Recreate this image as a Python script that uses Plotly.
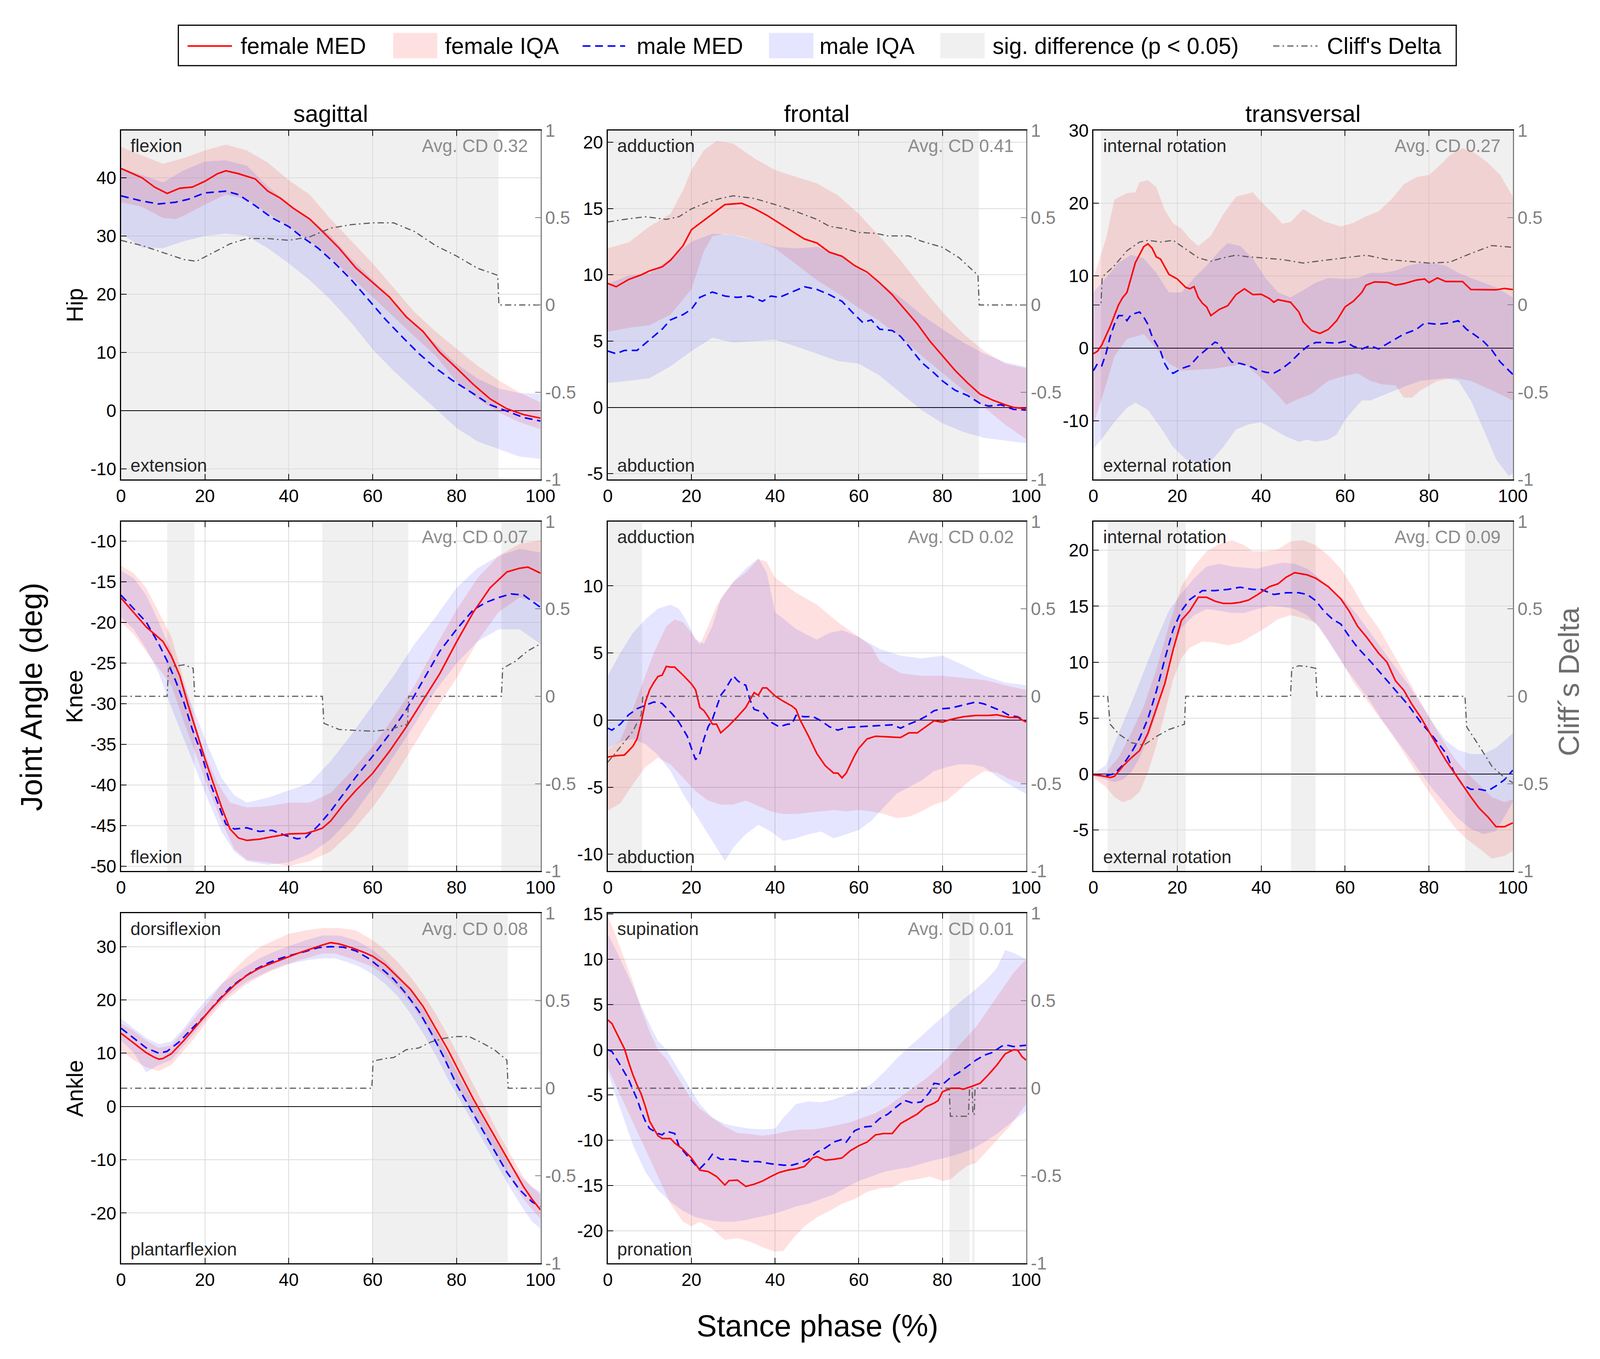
import plotly.graph_objects as go

# ---------------------------------------------------------------
# data: (stance %, value) pairs
# ---------------------------------------------------------------

# Hip - sagittal
hip_sag_f_med = [(0, 41.6), (5, 40.0), (8, 38.4), (11, 37.3), (14, 38.2), (17, 38.4), (20, 39.4), (23, 40.7),
                 (25, 41.2), (28, 40.7), (32, 39.8), (35, 37.7), (38, 36.5), (41, 34.8), (45, 32.9), (48, 30.8),
                 (52, 27.9), (56, 24.5), (60, 22.0), (64, 19.5), (68, 16.1), (72, 13.6), (76, 10.0), (80, 7.3),
                 (84, 4.5), (88, 2.0), (92, 0.3), (96, -0.7), (100, -1.3)]
hip_sag_m_med = [(0, 36.9), (5, 36.0), (9, 35.5), (13, 35.8), (16, 36.3), (20, 37.4), (25, 37.7), (28, 37.1),
                 (32, 35.2), (36, 33.1), (40, 31.6), (43, 29.9), (47, 27.9), (51, 25.3), (55, 22.4), (59, 19.0),
                 (63, 15.7), (67, 12.7), (71, 9.8), (75, 7.3), (79, 5.2), (84, 2.9), (88, 1.0), (92, -0.1),
                 (96, -1.2), (100, -1.8)]
hip_sag_f_up = [(0, 45.3), (10, 42.4), (15, 43.4), (20, 44.7), (25, 45.7), (30, 44.7), (35, 42.6), (40, 39.6),
                (45, 37.1), (50, 32.9), (55, 29.1), (60, 25.3), (65, 21.1), (70, 16.9), (75, 13.6), (80, 10.6),
                (85, 7.7), (90, 5.2), (95, 3.1), (100, 1.4)]
hip_sag_f_lo = [(0, 35.8), (5, 35.0), (10, 33.1), (13, 32.9), (15, 33.5), (20, 35.4), (25, 37.1), (30, 36.3),
                (35, 33.9), (40, 31.6), (45, 29.1), (50, 26.2), (55, 22.8), (60, 19.5), (65, 16.1), (70, 12.7),
                (75, 9.4), (80, 5.0), (85, 2.0), (90, -0.3), (95, -2.0), (100, -3.2)]
hip_sag_m_up = [(0, 41.7), (5, 40.5), (10, 39.2), (15, 41.3), (20, 42.8), (25, 43.0), (30, 42.1), (35, 38.5),
                (40, 35.5), (45, 33.0), (50, 30.0), (55, 26.0), (60, 22.5), (65, 18.5), (70, 15.0), (75, 11.5),
                (80, 8.0), (85, 5.5), (90, 3.8), (95, 3.0), (100, 2.9)]
hip_sag_m_lo = [(0, 30.4), (5, 28.0), (10, 27.9), (15, 29.1), (20, 30.0), (25, 30.4), (30, 30.0), (35, 27.9),
                (40, 25.3), (45, 22.4), (50, 19.0), (55, 15.0), (60, 10.5), (65, 6.8), (70, 3.5), (75, 0.3),
                (80, -3.0), (85, -5.3), (90, -6.6), (95, -7.9), (100, -8.3)]
hip_sag_cd = [(0, 0.37), (5, 0.34), (10, 0.30), (15, 0.26), (18, 0.25), (22, 0.30), (26, 0.35), (30, 0.38),
              (35, 0.38), (40, 0.37), (45, 0.39), (50, 0.44), (55, 0.46), (60, 0.47), (65, 0.47), (70, 0.42),
              (75, 0.34), (80, 0.28), (85, 0.21), (89.8, 0.17), (90.1, 0.0), (100, 0.0)]
hip_sag_sig = [(0, 90)]

# Hip - frontal
hip_fro_f_med = [(0, 9.35), (2, 9.1), (5, 9.65), (8, 10.0), (10, 10.3), (13, 10.6), (15, 11.1), (18, 12.2),
                 (20, 13.4), (23, 14.1), (26, 14.8), (28, 15.3), (32, 15.4), (35, 15.0), (38, 14.5), (41, 13.9),
                 (44, 13.3), (47, 12.7), (50, 12.4), (53, 11.7), (56, 11.4), (59, 10.7), (62, 10.2), (65, 9.4),
                 (68, 8.5), (71, 7.4), (74, 6.3), (77, 5.0), (80, 3.9), (83, 2.8), (86, 1.85), (89, 1.0),
                 (92, 0.55), (95, 0.2), (97, 0.0), (100, -0.1)]
hip_fro_m_med = [(0, 4.25), (2, 4.05), (4, 4.3), (7, 4.3), (10, 5.1), (13, 5.9), (15, 6.6), (18, 7.0), (20, 7.4),
                 (22, 8.3), (25, 8.7), (28, 8.4), (31, 8.3), (34, 8.4), (37, 8.0), (39, 8.4), (41, 8.3), (44, 8.7),
                 (47, 9.1), (50, 8.9), (53, 8.5), (56, 8.0), (59, 7.0), (61, 6.4), (63, 6.6), (65, 5.9), (68, 5.8),
                 (70, 5.35), (72, 4.6), (75, 3.4), (78, 2.6), (80, 2.0), (83, 1.3), (86, 0.9), (89, 0.3),
                 (91, 0.1), (94, 0.2), (97, -0.15), (100, -0.2)]
hip_fro_f_up = [(0, 12.0), (5, 12.45), (10, 13.65), (15, 14.6), (18, 16.4), (20, 17.9), (23, 19.4), (26, 20.1),
                (30, 19.9), (35, 18.8), (40, 17.9), (45, 17.4), (50, 16.9), (55, 16.0), (60, 14.6), (65, 12.9),
                (70, 11.1), (75, 9.1), (80, 7.2), (85, 5.55), (90, 4.25), (95, 3.3), (100, 2.95)]
hip_fro_f_lo = [(0, 5.7), (5, 6.0), (10, 6.2), (15, 7.0), (20, 8.9), (23, 11.8), (25, 12.9), (28, 13.1),
                (32, 12.9), (36, 12.5), (40, 12.0), (45, 10.8), (50, 9.6), (55, 8.6), (60, 7.5), (65, 6.5),
                (70, 5.3), (75, 3.9), (80, 2.6), (85, 1.3), (90, 0.0), (95, -1.3), (100, -2.4)]
hip_fro_m_up = [(0, 9.3), (5, 9.95), (10, 10.1), (15, 11.25), (20, 12.5), (25, 13.1), (30, 13.0), (35, 12.6),
                (40, 12.1), (45, 12.0), (50, 12.1), (55, 11.6), (60, 10.5), (65, 9.4), (70, 8.3), (75, 7.0),
                (80, 5.9), (85, 4.9), (90, 4.05), (95, 3.4), (100, 3.05)]
hip_fro_m_lo = [(0, 1.85), (5, 2.0), (10, 2.2), (15, 3.1), (20, 4.25), (25, 5.25), (30, 4.9), (35, 5.0),
                (40, 5.1), (45, 4.6), (50, 4.05), (55, 3.5), (60, 3.3), (65, 2.4), (70, 1.1), (75, -0.2),
                (80, -1.2), (85, -1.85), (90, -2.3), (95, -2.5), (100, -2.7)]
hip_fro_cd = [(0, 0.475), (4, 0.49), (9, 0.505), (14, 0.49), (17, 0.505), (20, 0.55), (24, 0.59), (27, 0.61),
              (30, 0.625), (35, 0.61), (40, 0.575), (45, 0.535), (50, 0.49), (53, 0.45), (57, 0.435), (60, 0.415),
              (64, 0.41), (67, 0.395), (72, 0.395), (75, 0.365), (80, 0.33), (84, 0.27), (88.5, 0.17),
              (88.8, 0.0), (100, 0.0)]
hip_fro_sig = [(0, 88.7)]

# Hip - transversal
hip_tra_f_med = [(0, -0.75), (1, -0.4), (2, 0.45), (4, 3.0), (6, 6.0), (7, 7.0), (8, 7.7), (9, 9.7), (10, 11.8),
                 (11, 12.9), (12, 14.0), (13, 14.4), (14, 13.8), (15, 12.6), (16, 12.3), (17, 11.25), (18, 10.2),
                 (20, 9.55), (22, 8.4), (23, 8.2), (24, 8.5), (25, 7.0), (26, 6.2), (27, 5.7), (28, 4.5),
                 (30, 5.35), (32, 5.85), (34, 7.4), (36, 8.2), (38, 7.4), (40, 7.45), (42, 6.85), (43, 6.35),
                 (44, 6.7), (47, 6.35), (49, 5.0), (50, 3.65), (52, 2.45), (54, 2.05), (56, 2.6), (58, 3.8),
                 (60, 5.7), (62, 6.5), (64, 7.7), (65, 8.7), (67, 9.15), (70, 9.1), (72, 8.7), (74, 8.9),
                 (77, 9.4), (79, 9.55), (80, 9.05), (82, 9.7), (84, 9.2), (86, 9.2), (88, 9.2), (90, 8.1),
                 (93, 8.05), (96, 8.05), (98, 8.25), (100, 8.1)]
hip_tra_m_med = [(0, -3.1), (1, -2.1), (2, -2.4), (3, -0.75), (4, 1.6), (5, 3.3), (6, 4.5), (7, 4.5), (8, 3.8),
                 (9, 4.65), (11, 5.0), (12, 4.3), (13, 3.3), (14, 1.6), (16, -0.4), (17, -2.1), (18, -3.1),
                 (19, -3.45), (21, -2.8), (23, -2.4), (25, -1.1), (27, -0.1), (29, 0.85), (30, 0.6), (31, -0.4),
                 (33, -1.9), (35, -2.1), (37, -2.4), (39, -2.95), (41, -3.3), (43, -3.45), (45, -2.8),
                 (47, -1.9), (49, -0.75), (51, 0.25), (53, 0.8), (55, 0.8), (58, 0.7), (60, 0.95), (62, 0.25),
                 (64, -0.1), (66, 0.35), (68, -0.1), (70, 0.6), (72, 1.3), (74, 1.95), (77, 2.6), (79, 3.5),
                 (82, 3.3), (85, 3.5), (87, 3.8), (89, 2.6), (91, 1.8), (93, 0.95), (95, -0.25), (97, -1.9),
                 (100, -3.6)]
hip_tra_f_up = [(0, 9.7), (3, 15.1), (5, 20.5), (8, 21.4), (10, 21.5), (11, 22.9), (13, 23.2), (15, 22.2),
                (17, 19.1), (19, 17.2), (21, 16.5), (23, 15.1), (25, 14.1), (28, 15.5), (31, 18.5), (34, 20.9),
                (38, 21.5), (40, 20.2), (43, 18.5), (45, 17.2), (47, 17.4), (50, 19.2), (52, 18.5), (55, 17.5),
                (59, 16.8), (62, 17.3), (65, 18.2), (68, 18.9), (71, 20.5), (74, 22.6), (77, 23.6), (80, 23.9),
                (82, 24.9), (85, 26.6), (88, 27.6), (91, 26.9), (94, 25.6), (97, 23.9), (100, 20.9)]
hip_tra_f_lo = [(0, -10.5), (3, -5.1), (5, -1.1), (8, 1.3), (10, 1.6), (12, 1.95), (15, -0.1), (18, -2.1),
                (21, -3.1), (25, -2.95), (29, -2.8), (33, -2.45), (36, -2.1), (40, -4.1), (44, -6.5), (46, -7.8),
                (48, -7.2), (52, -6.3), (56, -4.5), (60, -3.8), (63, -3.45), (66, -4.5), (69, -5.0), (72, -5.1),
                (74, -6.8), (76, -6.8), (78, -5.8), (82, -4.5), (86, -4.1), (90, -4.5), (95, -5.8), (100, -7.2)]
hip_tra_m_up = [(0, 7.7), (3, 9.7), (6, 11.8), (9, 12.9), (12, 12.4), (15, 10.4), (18, 7.7), (21, 7.7),
                (24, 9.7), (27, 11.4), (30, 13.4), (32, 14.5), (35, 14.1), (38, 12.4), (41, 9.7), (44, 7.7),
                (47, 7.0), (50, 8.0), (53, 9.05), (56, 9.7), (60, 9.55), (63, 9.7), (66, 10.4), (69, 10.4),
                (72, 10.7), (75, 11.4), (78, 11.75), (81, 11.75), (84, 11.4), (87, 10.4), (90, 9.7), (93, 9.05),
                (96, 8.4), (100, 7.0)]
hip_tra_m_lo = [(0, -13.9), (2, -12.5), (5, -10.2), (8, -8.2), (10, -7.5), (13, -8.5), (16, -10.9),
                (19, -13.6), (22, -15.3), (25, -15.8), (28, -15.6), (31, -13.6), (34, -11.2), (37, -10.5),
                (40, -10.2), (43, -11.2), (46, -12.2), (49, -12.9), (51, -12.6), (53, -12.9), (56, -12.6),
                (58, -11.9), (60, -9.9), (62, -8.5), (64, -7.2), (66, -7.2), (69, -6.5), (72, -5.8), (75, -5.1),
                (78, -4.5), (81, -4.3), (84, -4.1), (87, -4.5), (90, -7.2), (93, -11.2), (96, -15.3),
                (99, -17.6), (100, -17.3)]
hip_tra_cd = [(0, 0.0), (1.8, 0.0), (2.1, 0.16), (5, 0.225), (8, 0.31), (11, 0.36), (13, 0.37), (16, 0.36),
              (19, 0.37), (22, 0.32), (25, 0.27), (28, 0.25), (31, 0.27), (34, 0.285), (37, 0.275), (40, 0.27),
              (45, 0.26), (50, 0.24), (55, 0.255), (60, 0.27), (65, 0.285), (70, 0.26), (75, 0.25), (80, 0.24),
              (85, 0.245), (90, 0.295), (95, 0.34), (100, 0.33)]
hip_tra_sig = [(1.8, 100)]

# Knee - sagittal
knee_sag_f_med = [(0, -17.0), (3, -18.75), (6, -20.55), (9, -21.9), (10, -22.35), (12, -24.15), (14, -26.55),
                  (16, -30.15), (18, -33.45), (20, -36.75), (22, -39.75), (24, -42.75), (26, -45.4), (28, -46.5),
                  (30, -46.8), (33, -46.65), (36, -46.35), (40, -46.0), (44, -45.95), (46, -45.65), (48, -45.3),
                  (50, -44.4), (53, -42.4), (56, -40.65), (60, -38.55), (64, -35.85), (68, -32.85), (72, -29.6),
                  (76, -26.3), (80, -22.4), (84, -18.75), (88, -15.75), (92, -13.8), (95, -13.35), (97, -13.2),
                  (100, -13.95)]
knee_sag_m_med = [(0, -16.65), (3, -18.3), (6, -19.95), (9, -22.65), (11, -24.75), (13, -27.15), (15, -29.85),
                  (17, -33.15), (19, -35.85), (21, -39.4), (23, -42.1), (25, -44.8), (27, -45.4), (30, -45.25),
                  (33, -45.7), (36, -45.55), (39, -46.15), (42, -46.6), (44, -46.45), (47, -45.0), (50, -43.2),
                  (53, -41.1), (56, -39.0), (60, -36.45), (64, -33.75), (68, -30.75), (72, -27.15), (76, -23.55),
                  (80, -20.85), (84, -18.45), (87, -17.55), (90, -16.95), (93, -16.5), (96, -16.65),
                  (100, -18.15)]
knee_sag_f_up = [(0, -13.05), (3, -13.95), (6, -15.75), (9, -18.75), (12, -21.75), (15, -27.15), (18, -32.85),
                 (20, -36.15), (23, -39.75), (26, -42.15), (30, -42.75), (35, -42.6), (40, -42.15), (45, -42.15),
                 (50, -40.95), (55, -38.25), (60, -35.25), (65, -31.65), (70, -27.75), (75, -22.95), (80, -18.45),
                 (85, -14.55), (90, -11.85), (95, -10.35), (100, -9.9)]
knee_sag_f_lo = [(0, -19.95), (3, -21.45), (6, -23.55), (9, -25.65), (12, -27.75), (15, -32.25), (18, -36.45),
                 (21, -40.65), (24, -44.55), (27, -47.85), (30, -49.2), (35, -49.5), (40, -49.95), (45, -49.35),
                 (50, -48.15), (55, -45.75), (60, -42.75), (65, -39.15), (70, -34.95), (75, -30.75), (80, -26.85),
                 (85, -22.35), (90, -18.75), (95, -16.95), (100, -17.55)]
knee_sag_m_up = [(0, -13.65), (3, -14.55), (6, -16.65), (9, -19.95), (12, -23.55), (15, -27.75), (18, -31.65),
                 (21, -35.55), (24, -39.15), (27, -41.25), (30, -42.15), (35, -41.55), (40, -40.65), (45, -39.75),
                 (50, -37.05), (55, -33.75), (60, -30.15), (65, -26.55), (70, -22.65), (75, -19.35), (80, -15.75),
                 (85, -13.35), (90, -11.85), (95, -10.95), (100, -11.4)]
knee_sag_m_lo = [(0, -19.35), (3, -20.85), (6, -23.25), (9, -26.25), (12, -30.45), (15, -34.35), (18, -38.25),
                 (21, -42.15), (24, -45.75), (27, -48.15), (30, -49.35), (35, -49.8), (40, -49.5), (45, -48.45),
                 (50, -46.65), (55, -43.95), (60, -40.35), (65, -36.45), (70, -32.55), (75, -28.35), (80, -25.05),
                 (85, -22.35), (90, -20.85), (95, -20.85), (100, -22.65)]
knee_sag_cd = [(0, 0.0), (11, 0.0), (11.3, 0.155), (12, 0.17), (15, 0.18), (17.2, 0.16), (17.6, 0.0), (48, 0.0),
               (48.4, -0.155), (52, -0.19), (56, -0.195), (60, -0.2), (64, -0.19), (68.3, -0.16), (68.6, 0.0),
               (90.7, 0.0), (91, 0.16), (94, 0.2), (97, 0.26), (100, 0.30)]
knee_sag_sig = [(11, 17.5), (48, 68.5), (90.7, 100)]

# Knee - frontal
knee_fro_f_med = [(0, -2.75), (2, -2.65), (4, -2.6), (6, -1.95), (7, -1.4), (8, -0.15), (9, 1.35), (10, 2.25),
                  (11, 2.8), (12, 3.25), (13, 3.35), (14, 4.0), (15, 3.95), (16, 3.95), (18, 3.35), (20, 2.7),
                  (21, 2.25), (22, 0.95), (23, 0.7), (24, 0.25), (25, -0.3), (26, -0.3), (27, -0.95), (29, -0.4),
                  (31, 0.25), (33, 0.95), (35, 2.05), (36, 1.85), (37, 2.4), (38, 2.4), (40, 1.8), (42, 1.4),
                  (44, 1.05), (45, 0.8), (46, 0.0), (48, -1.2), (50, -2.5), (52, -3.4), (54, -3.95), (55, -3.95),
                  (56, -4.3), (57, -3.95), (59, -2.65), (60, -2.1), (62, -1.4), (64, -1.2), (67, -1.25),
                  (70, -1.3), (72, -0.95), (74, -0.95), (76, -0.5), (78, -0.05), (80, -0.15), (82, 0.05),
                  (85, 0.25), (88, 0.35), (91, 0.35), (93, 0.4), (96, 0.2), (98, 0.2), (100, -0.15)]
knee_fro_m_med = [(0, -0.6), (1, -0.75), (3, -0.3), (5, 0.4), (7, 0.85), (9, 1.1), (11, 1.35), (13, 1.25),
                  (15, 0.6), (17, -0.15), (19, -1.2), (20, -2.1), (21, -2.95), (22, -2.5), (23, -1.4), (24, -0.5),
                  (25, 0.05), (26, 0.95), (27, 1.85), (28, 2.25), (29, 2.8), (30, 3.3), (31, 2.95), (32, 2.7),
                  (33, 2.6), (34, 1.5), (35, 0.8), (37, 0.6), (39, -0.15), (41, -0.5), (43, -0.3), (44, -0.3),
                  (45, 0.35), (47, 0.25), (49, 0.27), (51, -0.05), (53, -0.5), (55, -0.75), (57, -0.55),
                  (60, -0.5), (63, -0.45), (66, -0.4), (68, -0.35), (70, -0.6), (72, -0.3), (74, -0.05),
                  (76, 0.27), (78, 0.7), (80, 0.85), (82, 0.9), (84, 1.05), (86, 1.2), (88, 1.35), (90, 1.2),
                  (92, 0.95), (94, 0.7), (96, 0.35), (98, 0.25), (100, -0.1)]
knee_fro_f_up = [(0, -2.2), (3, -1.5), (5, 0.0), (8, 2.5), (11, 5.0), (14, 7.0), (16, 7.5), (18, 7.3), (20, 6.5),
                 (22, 5.6), (24, 7.0), (26, 8.5), (28, 9.5), (30, 10.3), (33, 11.0), (36, 12.0), (38, 11.8),
                 (40, 10.6), (45, 9.5), (50, 8.6), (55, 7.3), (60, 6.2), (63, 5.5), (65, 4.4), (70, 3.5),
                 (75, 3.3), (80, 3.3), (85, 3.15), (90, 3.0), (95, 2.6), (100, 2.25)]
knee_fro_f_lo = [(0, -6.75), (3, -6.2), (6, -4.8), (9, -3.5), (12, -2.8), (15, -3.3), (18, -4.3), (21, -5.3),
                 (24, -6.0), (27, -6.3), (30, -6.3), (33, -6.0), (36, -6.4), (39, -6.8), (42, -7.0), (45, -7.0),
                 (48, -6.9), (51, -6.8), (54, -6.7), (57, -6.8), (60, -6.7), (63, -6.8), (66, -7.0), (69, -7.3),
                 (72, -7.2), (75, -6.8), (78, -6.3), (81, -6.0), (84, -5.2), (87, -4.4), (90, -3.8), (93, -3.9),
                 (96, -4.4), (100, -4.8)]
knee_fro_m_up = [(0, 3.3), (3, 5.0), (6, 6.5), (9, 7.5), (12, 8.3), (15, 8.6), (17, 8.3), (19, 7.3), (21, 6.0),
                 (23, 5.7), (25, 7.0), (27, 9.0), (30, 10.3), (33, 11.3), (36, 12.05), (38, 11.0), (40, 8.05),
                 (43, 7.3), (45, 6.8), (48, 6.3), (50, 6.0), (53, 6.5), (56, 6.7), (60, 6.2), (65, 5.3),
                 (70, 4.8), (75, 4.6), (80, 4.8), (85, 4.1), (90, 3.3), (95, 2.8), (100, 2.6)]
knee_fro_m_lo = [(0, -2.1), (3, -1.6), (6, -1.4), (9, -1.8), (12, -2.6), (15, -3.8), (18, -5.5), (21, -7.0),
                 (24, -8.5), (27, -10.0), (28, -10.5), (30, -9.5), (33, -8.5), (36, -7.8), (39, -8.3), (42, -9.0),
                 (45, -8.8), (48, -8.5), (51, -8.3), (54, -8.8), (57, -8.5), (60, -8.2), (63, -7.5), (66, -6.5),
                 (69, -5.5), (72, -5.0), (75, -4.5), (78, -3.8), (81, -3.5), (84, -3.3), (87, -3.3), (90, -3.5),
                 (93, -4.2), (96, -4.8), (100, -5.5)]
knee_fro_cd = [(0, -0.377), (2, -0.32), (4, -0.26), (6, -0.2), (8, -0.105), (8.4, 0.0), (100, 0.0)]
knee_fro_sig = [(0, 8.2)]

# Knee - transversal
knee_tra_f_med = [(0, -0.05), (2, -0.15), (4, -0.3), (5, -0.2), (7, 0.7), (9, 1.45), (11, 2.1), (13, 3.65),
                  (15, 5.85), (17, 8.05), (19, 11.1), (21, 13.75), (23, 14.6), (25, 15.8), (27, 15.8), (29, 15.45),
                  (31, 15.25), (33, 15.25), (35, 15.35), (37, 15.55), (39, 16.0), (42, 16.75), (44, 17.0),
                  (46, 17.6), (48, 18.0), (51, 17.8), (53, 17.5), (56, 16.75), (59, 15.65), (61, 14.55),
                  (63, 13.2), (65, 12.3), (68, 10.8), (70, 10.0), (72, 8.35), (74, 7.5), (76, 6.2), (78, 5.1),
                  (80, 3.8), (82, 2.5), (84, 1.25), (86, 0.15), (88, -0.95), (90, -2.05), (92, -3.05), (94, -3.8),
                  (96, -4.7), (98, -4.7), (100, -4.35)]
knee_tra_m_med = [(0, -0.05), (3, -0.15), (5, 0.05), (7, 0.8), (9, 1.9), (11, 3.2), (13, 4.95), (15, 7.4),
                  (17, 10.25), (19, 12.9), (21, 14.6), (23, 15.6), (26, 16.4), (29, 16.4), (32, 16.5), (35, 16.7),
                  (38, 16.5), (40, 16.5), (43, 16.05), (46, 16.2), (49, 16.2), (51, 16.05), (53, 15.5), (55, 14.55),
                  (57, 13.85), (59, 13.4), (61, 12.3), (63, 11.3), (66, 10.1), (69, 8.8), (72, 7.5), (75, 6.2),
                  (78, 4.65), (81, 3.35), (84, 1.9), (86, 0.15), (88, -0.95), (90, -1.35), (92, -1.35),
                  (94, -1.5), (96, -1.05), (98, -0.5), (100, 0.35)]
knee_tra_f_up = [(0, 0.0), (3, 0.2), (6, 1.5), (9, 3.65), (12, 6.05), (15, 9.35), (18, 13.3), (21, 16.8),
                 (24, 18.55), (27, 19.9), (30, 20.55), (33, 20.9), (36, 20.45), (38, 19.9), (41, 19.9), (44, 20.1),
                 (47, 20.8), (50, 20.9), (53, 20.45), (56, 19.55), (59, 18.35), (62, 16.6), (65, 14.6), (68, 13.05),
                 (71, 11.1), (74, 9.1), (77, 7.15), (80, 5.15), (83, 3.2), (86, 1.45), (89, 0.15), (92, -0.95),
                 (95, -2.05), (98, -2.5), (100, -2.25)]
knee_tra_f_lo = [(0, -0.3), (3, -1.15), (5, -2.05), (7, -2.5), (9, -2.25), (11, -1.6), (13, 0.15), (15, 2.55),
                 (17, 5.4), (19, 8.45), (21, 10.4), (23, 11.3), (26, 11.85), (29, 11.75), (32, 11.5), (35, 11.75),
                 (38, 12.4), (41, 13.05), (44, 13.85), (47, 14.2), (50, 13.95), (53, 13.5), (56, 11.95),
                 (59, 10.2), (62, 8.2), (65, 6.7), (68, 5.15), (71, 3.65), (74, 1.9), (77, 0.15), (80, -1.6),
                 (83, -3.15), (86, -4.7), (89, -5.8), (92, -6.65), (95, -7.55), (98, -7.3), (100, -6.85)]
knee_tra_m_up = [(0, 0.05), (3, 0.8), (6, 3.65), (9, 6.3), (12, 9.15), (15, 12.0), (18, 14.6), (21, 16.15),
                 (24, 17.5), (27, 18.55), (30, 18.8), (33, 18.55), (36, 18.45), (39, 18.35), (42, 18.65),
                 (45, 18.9), (48, 18.8), (51, 18.35), (54, 17.5), (57, 16.4), (60, 15.5), (63, 14.2), (66, 12.65),
                 (69, 11.1), (72, 9.55), (75, 8.05), (78, 6.3), (81, 4.55), (84, 3.0), (87, 2.15), (90, 1.8),
                 (93, 1.8), (96, 2.35), (98, 3.0), (100, 3.65)]
knee_tra_m_lo = [(0, -0.15), (3, -0.5), (5, -0.7), (7, -0.5), (9, 0.15), (11, 1.45), (13, 3.2), (15, 5.4),
                 (17, 8.05), (19, 11.1), (21, 13.05), (24, 14.2), (27, 14.75), (30, 14.6), (33, 14.4), (36, 14.4),
                 (39, 14.75), (42, 15.05), (45, 14.95), (48, 14.75), (51, 14.2), (54, 13.05), (57, 11.3),
                 (60, 9.55), (63, 8.05), (66, 6.5), (69, 4.75), (72, 3.2), (75, 1.7), (78, 0.15), (81, -1.4),
                 (84, -2.7), (87, -4.0), (90, -4.9), (93, -5.35), (96, -5.1), (98, -3.8), (100, -2.5)]
knee_tra_cd = [(0, 0.0), (3.4, 0.0), (4, -0.16), (6, -0.215), (9, -0.265), (12, -0.28), (15, -0.23),
               (18, -0.19), (21.7, -0.16), (22, 0.0), (47, 0.0), (47.3, 0.16), (49, 0.175), (51, 0.17),
               (53, 0.16), (53.3, 0.0), (88.6, 0.0), (89, -0.175), (92, -0.285), (95, -0.4), (98, -0.465),
               (100, -0.495)]
knee_tra_sig = [(3.4, 22), (47.1, 53), (88.6, 100)]

# Ankle - sagittal
ank_sag_f_med = [(0, 13.75), (3, 11.9), (6, 10.1), (8, 9.2), (9, 8.9), (10, 9.0), (12, 9.9), (15, 12.4),
                 (18, 15.2), (21, 17.9), (24, 20.45), (27, 22.75), (30, 24.6), (33, 25.95), (36, 26.9), (39, 27.8),
                 (42, 28.7), (45, 29.5), (48, 30.3), (50, 30.75), (52, 30.5), (55, 29.8), (58, 28.9), (60, 28.2),
                 (63, 26.6), (66, 24.3), (69, 22.0), (72, 18.8), (75, 14.7), (78, 10.55), (81, 5.95), (84, 1.4),
                 (87, -2.75), (90, -6.9), (93, -11.0), (96, -15.1), (98, -17.4), (100, -19.4)]
ank_sag_m_med = [(0, 14.7), (3, 12.85), (6, 11.0), (9, 10.0), (11, 10.35), (14, 12.2), (17, 14.7), (20, 17.0),
                 (23, 19.75), (26, 22.3), (29, 24.1), (32, 25.7), (35, 26.9), (38, 27.8), (41, 28.5), (44, 29.1),
                 (47, 29.8), (50, 30.0), (53, 29.9), (56, 29.2), (59, 27.8), (62, 25.95), (65, 23.9), (68, 21.15),
                 (71, 17.9), (74, 13.75), (77, 9.2), (80, 4.1), (83, 0.0), (86, -4.1), (89, -8.25), (92, -12.35),
                 (95, -15.6), (98, -17.9), (100, -18.8)]
ank_sag_f_up = [(0, 15.6), (3, 14.2), (6, 12.4), (9, 11.0), (12, 11.5), (15, 14.2), (18, 17.0), (21, 19.75),
                (24, 23.0), (27, 25.7), (30, 28.0), (33, 29.85), (36, 31.0), (40, 32.4), (44, 33.05), (48, 33.5),
                (52, 33.5), (56, 33.05), (60, 31.2), (63, 29.4), (66, 27.1), (69, 24.35), (72, 21.15), (75, 17.45),
                (78, 13.3), (81, 8.7), (84, 4.1), (87, -0.45), (90, -5.05), (93, -9.2), (96, -13.3), (98, -15.1),
                (100, -16.5)]
ank_sag_f_lo = [(0, 10.55), (3, 8.7), (6, 7.35), (9, 6.65), (12, 7.8), (15, 10.55), (18, 13.3), (21, 16.5),
                (24, 19.3), (27, 21.15), (30, 23.0), (33, 24.35), (36, 25.5), (39, 26.4), (42, 27.35), (45, 28.0),
                (48, 28.7), (51, 28.7), (54, 28.0), (57, 27.1), (60, 26.2), (63, 24.6), (66, 22.3), (69, 19.5),
                (72, 16.05), (75, 11.9), (78, 7.35), (81, 2.75), (84, -1.4), (87, -5.5), (90, -9.65), (93, -13.75),
                (96, -17.4), (98, -19.3), (100, -21.1)]
ank_sag_m_up = [(0, 16.5), (3, 14.7), (6, 12.85), (9, 11.7), (12, 12.2), (15, 14.7), (18, 17.9), (21, 20.65),
                (24, 23.0), (27, 24.8), (30, 26.4), (33, 27.8), (36, 28.9), (40, 30.1), (44, 31.2), (48, 32.1),
                (52, 32.1), (56, 31.2), (60, 29.4), (63, 27.35), (66, 24.8), (69, 22.0), (72, 18.35), (75, 14.2),
                (78, 9.65), (81, 5.05), (84, 0.9), (87, -3.2), (90, -7.35), (93, -11.0), (96, -13.75), (98, -15.1),
                (100, -16.0)]
ank_sag_m_lo = [(0, 12.4), (3, 10.1), (6, 6.4), (9, 7.8), (12, 8.7), (15, 11.45), (18, 14.2), (21, 17.2),
                (24, 19.75), (27, 21.8), (30, 23.45), (33, 24.6), (36, 25.7), (39, 26.6), (42, 27.1), (45, 27.55),
                (48, 27.8), (51, 27.8), (54, 27.1), (57, 26.2), (60, 24.8), (63, 23.0), (66, 20.65), (69, 17.45),
                (72, 13.75), (75, 9.65), (78, 5.05), (81, 0.9), (84, -3.2), (87, -7.35), (90, -11.45),
                (93, -15.6), (96, -19.3), (98, -21.6), (100, -22.9)]
ank_sag_cd = [(0, 0.0), (59.8, 0.0), (60.1, 0.155), (63, 0.17), (65, 0.175), (68, 0.22), (71, 0.23),
              (74, 0.265), (77, 0.285), (80, 0.295), (83, 0.295), (86, 0.26), (89, 0.22), (92, 0.16),
              (92.3, 0.0), (100, 0.0)]
ank_sag_sig = [(60, 92.2)]

# Ankle - frontal
ank_fro_f_med = [(0, 3.3), (1, 2.9), (2, 1.95), (3, 1.0), (4, 0.1), (5, -1.4), (6, -2.75), (7, -3.9), (8, -4.9),
                 (9, -6.3), (10, -7.9), (11, -8.7), (12, -9.5), (13, -9.8), (15, -9.8), (16, -10.3), (18, -11.0),
                 (20, -11.95), (22, -13.3), (24, -13.45), (26, -14.0), (28, -14.95), (29, -14.45), (31, -14.4),
                 (33, -15.1), (35, -14.85), (37, -14.5), (39, -14.0), (41, -13.55), (43, -13.3), (45, -13.15),
                 (47, -12.9), (49, -11.95), (50, -11.8), (52, -12.2), (54, -12.1), (56, -11.95), (58, -11.15),
                 (60, -10.6), (62, -10.2), (64, -9.4), (66, -9.25), (68, -9.25), (70, -8.15), (72, -7.6),
                 (74, -7.1), (76, -6.3), (78, -5.9), (79, -5.6), (80, -4.65), (82, -4.25), (84, -4.25),
                 (85, -4.35), (87, -4.05), (89, -3.7), (91, -2.75), (93, -1.7), (95, -0.45), (97, 0.0),
                 (98, -0.05), (99, -0.75), (100, -1.15)]
ank_fro_m_med = [(0, 0.0), (1, -0.2), (3, -1.7), (5, -3.3), (6, -4.4), (7, -5.45), (8, -6.8), (9, -7.9),
                 (10, -8.7), (12, -9.25), (13, -9.4), (14, -9.0), (16, -9.25), (17, -10.6), (19, -11.7),
                 (21, -12.75), (22, -13.15), (24, -12.2), (25, -11.55), (27, -12.1), (30, -12.1), (33, -12.35),
                 (36, -12.35), (39, -12.6), (42, -12.75), (44, -12.75), (46, -12.5), (48, -12.1), (50, -11.3),
                 (52, -10.85), (54, -10.2), (56, -9.9), (57, -10.2), (59, -8.95), (61, -8.55), (63, -8.45),
                 (65, -7.6), (67, -7.1), (69, -6.3), (71, -5.6), (73, -5.9), (75, -5.75), (77, -4.65), (78, -3.7),
                 (80, -3.85), (82, -3.05), (84, -2.5), (86, -1.8), (88, -1.15), (90, -0.6), (92, -0.3),
                 (94, 0.35), (95, 0.55), (97, 0.35), (99, 0.45), (100, 0.5)]
ank_fro_f_up = [(0, 14.8), (2, 12.5), (4, 10.0), (6, 7.5), (8, 4.5), (10, 2.0), (12, 0.0), (14, -1.0),
                (16, -2.5), (18, -4.0), (20, -5.5), (22, -6.5), (25, -7.5), (28, -8.5), (31, -9.2), (34, -9.3),
                (37, -9.5), (40, -9.3), (43, -9.0), (46, -8.8), (49, -8.8), (52, -8.6), (55, -8.3), (58, -8.0),
                (61, -7.5), (64, -7.0), (67, -6.2), (70, -5.2), (73, -4.2), (76, -3.2), (79, -2.0), (82, -0.5),
                (85, 1.0), (88, 2.5), (91, 4.5), (94, 6.5), (97, 8.5), (100, 10.0)]
ank_fro_f_lo = [(0, -2.0), (3, -5.0), (6, -8.0), (9, -11.0), (12, -14.0), (15, -17.0), (18, -19.0), (20, -19.5),
                (22, -19.0), (25, -19.8), (28, -21.0), (31, -20.8), (34, -21.2), (37, -21.8), (40, -22.3),
                (42, -22.2), (44, -21.0), (47, -19.5), (50, -18.5), (53, -17.8), (56, -17.0), (59, -16.5),
                (62, -15.7), (65, -15.3), (68, -15.2), (71, -14.5), (74, -14.3), (77, -14.0), (80, -14.5),
                (82, -14.3), (84, -13.5), (86, -12.8), (88, -12.5), (90, -11.5), (93, -10.0), (96, -8.5),
                (100, -6.0)]
ank_fro_m_up = [(0, 12.8), (2, 11.0), (4, 9.0), (6, 7.0), (8, 4.8), (10, 2.8), (12, 1.0), (14, 0.0), (16, -1.5),
                (18, -3.0), (20, -4.5), (22, -6.0), (25, -7.5), (28, -8.2), (31, -8.5), (34, -8.7), (37, -8.8),
                (40, -8.7), (42, -7.5), (45, -6.0), (48, -5.7), (51, -5.8), (54, -5.5), (57, -5.0), (60, -4.5),
                (63, -3.8), (66, -2.5), (69, -1.0), (72, 0.3), (75, 1.5), (78, 2.8), (81, 4.0), (84, 5.2),
                (87, 6.3), (90, 7.5), (93, 9.0), (95, 11.0), (97, 10.7), (100, 10.0)]
ank_fro_m_lo = [(0, -2.5), (3, -6.5), (6, -10.5), (9, -13.5), (12, -15.5), (15, -16.8), (18, -17.8), (21, -18.5),
                (24, -18.8), (27, -19.0), (30, -19.0), (33, -18.8), (36, -18.5), (39, -18.2), (42, -17.8),
                (45, -17.3), (48, -17.0), (51, -16.5), (54, -16.0), (57, -15.2), (60, -14.5), (63, -14.0),
                (66, -13.5), (69, -13.2), (72, -13.0), (75, -12.6), (78, -12.2), (81, -11.9), (84, -11.5),
                (87, -11.0), (90, -10.2), (93, -9.3), (96, -8.2), (100, -6.8)]
ank_fro_cd = [(0, 0.0), (81.6, 0.0), (81.9, -0.16), (86.2, -0.16), (86.5, 0.0), (87.1, 0.0), (87.3, -0.15),
              (87.6, -0.15), (87.8, 0.0), (100, 0.0)]
ank_fro_sig = [(81.7, 86.5), (87.1, 87.7)]

# tick labels
x_ticks = [0, 20, 40, 60, 80, 100]
cd_ticks = [-1, -0.5, 0, 0.5, 1]
cd_tick_text = ["-1", "-0.5", "0", "0.5", "1"]
hip_sag_ticks = [-10, 0, 10, 20, 30, 40]
hip_fro_ticks = [-5, 0, 5, 10, 15, 20]
hip_tra_ticks = [-10, 0, 10, 20, 30]
knee_sag_ticks = [-50, -45, -40, -35, -30, -25, -20, -15, -10]
knee_fro_ticks = [-10, -5, 0, 5, 10]
knee_tra_ticks = [-5, 0, 5, 10, 15, 20]
ank_sag_ticks = [-20, -10, 0, 10, 20, 30]
ank_fro_ticks = [-20, -15, -10, -5, 0, 5, 10, 15]

col_titles = ["sagittal", "frontal", "transversal"]
row_titles = ["Hip", "Knee", "Ankle"]

panels = [
    dict(fm=hip_sag_f_med, mm=hip_sag_m_med, fu=hip_sag_f_up, fl=hip_sag_f_lo, mu=hip_sag_m_up, ml=hip_sag_m_lo,
         cd=hip_sag_cd, sig=hip_sag_sig, ticks=hip_sag_ticks, rng=[-11.85, 48.15],
         top="flexion", bottom="extension", avg="Avg. CD 0.32"),
    dict(fm=hip_fro_f_med, mm=hip_fro_m_med, fu=hip_fro_f_up, fl=hip_fro_f_lo, mu=hip_fro_m_up, ml=hip_fro_m_lo,
         cd=hip_fro_cd, sig=hip_fro_sig, ticks=hip_fro_ticks, rng=[-5.44, 20.9],
         top="adduction", bottom="abduction", avg="Avg. CD 0.41"),
    dict(fm=hip_tra_f_med, mm=hip_tra_m_med, fu=hip_tra_f_up, fl=hip_tra_f_lo, mu=hip_tra_m_up, ml=hip_tra_m_lo,
         cd=hip_tra_cd, sig=hip_tra_sig, ticks=hip_tra_ticks, rng=[-18.1, 30.05],
         top="internal rotation", bottom="external rotation", avg="Avg. CD 0.27"),
    dict(fm=knee_sag_f_med, mm=knee_sag_m_med, fu=knee_sag_f_up, fl=knee_sag_f_lo, mu=knee_sag_m_up,
         ml=knee_sag_m_lo, cd=knee_sag_cd, sig=knee_sag_sig, ticks=knee_sag_ticks, rng=[-50.57, -7.6],
         top="", bottom="flexion", avg="Avg. CD 0.07"),
    dict(fm=knee_fro_f_med, mm=knee_fro_m_med, fu=knee_fro_f_up, fl=knee_fro_f_lo, mu=knee_fro_m_up,
         ml=knee_fro_m_lo, cd=knee_fro_cd, sig=knee_fro_sig, ticks=knee_fro_ticks, rng=[-11.25, 14.8],
         top="adduction", bottom="abduction", avg="Avg. CD 0.02"),
    dict(fm=knee_tra_f_med, mm=knee_tra_m_med, fu=knee_tra_f_up, fl=knee_tra_f_lo, mu=knee_tra_m_up,
         ml=knee_tra_m_lo, cd=knee_tra_cd, sig=knee_tra_sig, ticks=knee_tra_ticks, rng=[-8.66, 22.57],
         top="internal rotation", bottom="external rotation", avg="Avg. CD 0.09"),
    dict(fm=ank_sag_f_med, mm=ank_sag_m_med, fu=ank_sag_f_up, fl=ank_sag_f_lo, mu=ank_sag_m_up, ml=ank_sag_m_lo,
         cd=ank_sag_cd, sig=ank_sag_sig, ticks=ank_sag_ticks, rng=[-29.45, 36.3],
         top="dorsiflexion", bottom="plantarflexion", avg="Avg. CD 0.08"),
    dict(fm=ank_fro_f_med, mm=ank_fro_m_med, fu=ank_fro_f_up, fl=ank_fro_f_lo, mu=ank_fro_m_up, ml=ank_fro_m_lo,
         cd=ank_fro_cd, sig=ank_fro_sig, ticks=ank_fro_ticks, rng=[-23.6, 15.1],
         top="supination", bottom="pronation", avg="Avg. CD 0.01"),
]

# ---------------------------------------------------------------
# styling / layout
# ---------------------------------------------------------------
W, H = 4272, 3478          # reference picture size, used only to turn pixel positions into fractions
SCALE = 1 / 1.027          # page renders slightly smaller than the window, shrink fonts to match
FONT = "Liberation Sans, Arial, Helvetica, sans-serif"
RED = "#ff0000"
BLUE = "#0000ff"
F_FILL = "rgba(255,0,0,0.12)"
M_FILL = "rgba(0,0,255,0.10)"
SIG_FILL = "#f0f0f0"
CD_COL = "#5f5f5f"
GREY_TXT = "#808080"
BLUE_DASH = "20px,12px"
CD_DASH = "16px,8px,4px,8px"

col_px = [(305, 1439), (1621, 2752), (2934, 4068)]
row_px = [(305, 1212), (1321, 2229), (2338, 3248)]


def fx(px):
    return px / W


def fy(py):
    return 1 - py / H


def fs(size):
    return round(size * SCALE, 1)


def xs(pairs):
    return [p[0] for p in pairs]


def ys(pairs):
    return [p[1] for p in pairs]


fig = go.Figure()
layout = {}
shapes = []
annotations = []

for i, pn in enumerate(panels):
    k = i + 1
    r, c = divmod(i, 3)
    xr = "x" if k == 1 else f"x{k}"
    yr = "y" if k == 1 else f"y{2 * k - 1}"
    yr2 = f"y{2 * k}"
    xkey = "xaxis" if k == 1 else f"xaxis{k}"
    ykey = "yaxis" if k == 1 else f"yaxis{2 * k - 1}"
    ykey2 = f"yaxis{2 * k}"

    # IQR bands as closed polygons
    fig.add_trace(go.Scatter(x=xs(pn["fu"]) + xs(pn["fl"])[::-1], y=ys(pn["fu"]) + ys(pn["fl"])[::-1],
                             fill="toself", fillcolor=F_FILL, line=dict(width=0), mode="lines",
                             xaxis=xr, yaxis=yr, showlegend=False, hoverinfo="skip"))
    fig.add_trace(go.Scatter(x=xs(pn["mu"]) + xs(pn["ml"])[::-1], y=ys(pn["mu"]) + ys(pn["ml"])[::-1],
                             fill="toself", fillcolor=M_FILL, line=dict(width=0), mode="lines",
                             xaxis=xr, yaxis=yr, showlegend=False, hoverinfo="skip"))
    # medians
    fig.add_trace(go.Scatter(x=xs(pn["mm"]), y=ys(pn["mm"]), mode="lines",
                             line=dict(color=BLUE, width=4, dash=BLUE_DASH),
                             xaxis=xr, yaxis=yr, showlegend=False))
    fig.add_trace(go.Scatter(x=xs(pn["fm"]), y=ys(pn["fm"]), mode="lines",
                             line=dict(color=RED, width=4),
                             xaxis=xr, yaxis=yr, showlegend=False))
    # Cliff's delta on the right axis
    fig.add_trace(go.Scatter(x=xs(pn["cd"]), y=ys(pn["cd"]), mode="lines",
                             line=dict(color=CD_COL, width=3, dash=CD_DASH),
                             xaxis=xr, yaxis=yr2, showlegend=False))

    xdom = [fx(col_px[c][0]), fx(col_px[c][1])]
    ydom = [fy(row_px[r][1]), fy(row_px[r][0])]

    layout[xkey] = dict(domain=xdom, anchor=yr, range=[0, 100], tickvals=x_ticks,
                        ticktext=[str(t) for t in x_ticks], ticks="inside", ticklen=14, tickwidth=2,
                        tickcolor="#000", showline=True, linecolor="#000", linewidth=3, mirror="ticks",
                        showgrid=True, gridcolor="#dcdcdc", gridwidth=2, zeroline=False,
                        tickfont=dict(size=fs(47), color="#000", family=FONT))
    layout[ykey] = dict(domain=ydom, anchor=xr, range=pn["rng"], tickvals=pn["ticks"],
                        ticktext=[str(t) for t in pn["ticks"]], ticks="inside", ticklen=14, tickwidth=2,
                        tickcolor="#000", showline=True, linecolor="#000", linewidth=3,
                        showgrid=True, gridcolor="#dcdcdc", gridwidth=2,
                        zeroline=True, zerolinecolor="#000", zerolinewidth=2,
                        tickfont=dict(size=fs(47), color="#000", family=FONT))
    layout[ykey2] = dict(domain=ydom, anchor=xr, overlaying=yr, side="right", range=[-1, 1],
                         tickvals=cd_ticks, ticktext=cd_tick_text, ticks="inside", ticklen=14, tickwidth=2,
                         tickcolor=GREY_TXT, showline=True, linecolor=GREY_TXT, linewidth=3,
                         showgrid=False, zeroline=False,
                         tickfont=dict(size=fs(47), color=GREY_TXT, family=FONT))

    # significant regions
    for a, b in pn["sig"]:
        shapes.append(dict(type="rect", xref=xr, yref=f"{yr} domain", x0=a, x1=b, y0=0, y1=1,
                           fillcolor=SIG_FILL, line=dict(width=0), layer="below"))

    # panel texts
    xd = f"{xr} domain"
    yd = f"{yr} domain"
    if pn["top"]:
        annotations.append(dict(text=pn["top"], xref=xd, yref=yd, x=0.022, y=0.955, xanchor="left",
                                yanchor="middle", showarrow=False, borderpad=0,
                                font=dict(size=fs(47), color="#262626", family=FONT)))
    annotations.append(dict(text=pn["bottom"], xref=xd, yref=yd, x=0.022, y=0.04, xanchor="left",
                            yanchor="middle", showarrow=False, borderpad=0,
                            font=dict(size=fs(47), color="#262626", family=FONT)))
    annotations.append(dict(text=pn["avg"], xref=xd, yref=yd, x=0.972, y=0.955, xanchor="right",
                            yanchor="middle", showarrow=False, borderpad=0,
                            font=dict(size=fs(47), color="#8c8c8c", family=FONT)))

# column and row titles
for c, t in enumerate(col_titles):
    annotations.append(dict(text=t, xref="paper", yref="paper", x=fx((col_px[c][0] + col_px[c][1]) / 2),
                            y=fy(262), xanchor="center", yanchor="middle", showarrow=False,
                            font=dict(size=fs(62), color="#000", family=FONT)))
for r, t in enumerate(row_titles):
    annotations.append(dict(text=t, xref="paper", yref="paper", x=fx(180), y=fy((row_px[r][0] + row_px[r][1]) / 2),
                            xanchor="center", yanchor="middle", textangle=-90, showarrow=False,
                            font=dict(size=fs(60), color="#000", family=FONT)))

annotations.append(dict(text="Joint Angle (deg)", xref="paper", yref="paper", x=fx(62), y=fy(1776),
                        xanchor="center", yanchor="middle", textangle=-90, showarrow=False,
                        font=dict(size=fs(80), color="#000", family=FONT)))
annotations.append(dict(text="Cliff´s Delta", xref="paper", yref="paper", x=fx(4220), y=fy(1737),
                        xanchor="center", yanchor="middle", textangle=-90, showarrow=False,
                        font=dict(size=fs(76), color="#6e6e6e", family=FONT)))
annotations.append(dict(text="Stance phase (%)", xref="paper", yref="paper", x=fx(2188), y=fy(3410),
                        xanchor="center", yanchor="middle", showarrow=False,
                        font=dict(size=fs(80), color="#000", family=FONT)))

# legend drawn by hand (box, symbols, labels)
shapes.append(dict(type="rect", xref="paper", yref="paper", x0=fx(460), x1=fx(3915), y0=fy(137), y1=fy(32),
                   line=dict(color="#000", width=3), fillcolor="white", layer="above"))
leg_y = 86
shapes.append(dict(type="line", xref="paper", yref="paper", x0=fx(485), x1=fx(605), y0=fy(leg_y), y1=fy(leg_y),
                   line=dict(color=RED, width=4)))
shapes.append(dict(type="line", xref="paper", yref="paper", x0=fx(1553), x1=fx(1668), y0=fy(leg_y), y1=fy(leg_y),
                   line=dict(color=BLUE, width=4, dash=BLUE_DASH)))
shapes.append(dict(type="line", xref="paper", yref="paper", x0=fx(3420), x1=fx(3540), y0=fy(leg_y), y1=fy(leg_y),
                   line=dict(color=CD_COL, width=3, dash=CD_DASH)))
for x0, x1, col in [(1041, 1160, F_FILL), (2057, 2177, M_FILL), (2520, 2640, SIG_FILL)]:
    shapes.append(dict(type="rect", xref="paper", yref="paper", x0=fx(x0), x1=fx(x1), y0=fy(118), y1=fy(52),
                       fillcolor=col, line=dict(width=0), layer="above"))
for x0, t in [(627, "female MED"), (1180, "female IQA"), (1698, "male MED"), (2193, "male IQA"),
              (2660, "sig. difference (p < 0.05)"), (3564, "Cliff's Delta")]:
    annotations.append(dict(text=t, xref="paper", yref="paper", x=fx(x0), y=fy(leg_y), xanchor="left",
                            yanchor="middle", showarrow=False, borderpad=0,
                            font=dict(size=fs(60), color="#000", family=FONT)))

fig.update_layout(autosize=True, margin=dict(l=0, r=0, t=0, b=0),
                  paper_bgcolor="white", plot_bgcolor="white", showlegend=False,
                  font=dict(family=FONT), shapes=shapes, annotations=annotations, **layout)

# let the figure fill the browser window exactly
fig.write_html("out.html", config={"fillFrame": True})
